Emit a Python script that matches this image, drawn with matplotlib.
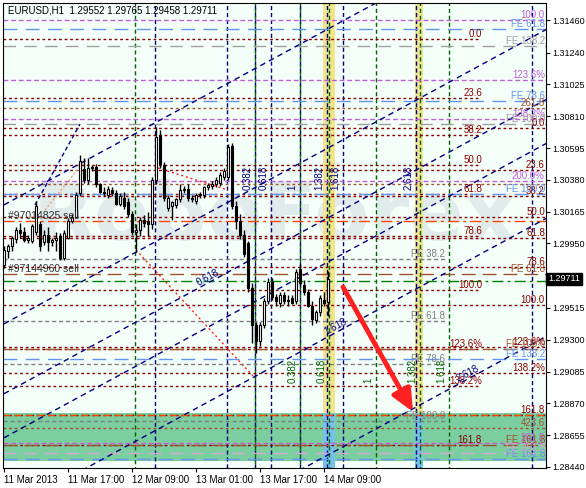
import numpy as np
import matplotlib.pyplot as plt

plt.rcParams['font.family'] = ['Liberation Sans', 'DejaVu Sans']

# hourly EURUSD candles from 11 Mar 2013 00:00
opens = [1.29805, 1.29900, 1.29930, 1.29980, 1.30040, 1.30030, 1.29975, 1.29970, 1.30030, 1.30080,
         1.29960, 1.30010, 1.29960, 1.29975, 1.30000, 1.29850, 1.29990, 1.30100, 1.30130, 1.30290,
         1.30450, 1.30380, 1.30460, 1.30470, 1.30350, 1.30300, 1.30280, 1.30310, 1.30290, 1.30220,
         1.30260, 1.30230, 1.30150, 1.30030, 1.30040, 1.30110, 1.30100, 1.30080, 1.30380, 1.30680,
         1.30480, 1.30190, 1.30200, 1.30210, 1.30250, 1.30310, 1.30320, 1.30260, 1.30240, 1.30275,
         1.30280, 1.30330, 1.30340, 1.30350, 1.30360, 1.30400, 1.30400, 1.30610, 1.30200, 1.30100,
         1.30010, 1.29950, 1.29650, 1.29400, 1.29290, 1.29400, 1.29560, 1.29690, 1.29590, 1.29550,
         1.29600, 1.29560, 1.29580, 1.29560, 1.29780, 1.29670, 1.29620, 1.29530, 1.29430, 1.29490,
         1.29570, 1.29552]
highs = [1.29933, 1.29945, 1.30000, 1.30060, 1.30090, 1.30060, 1.30010, 1.30080, 1.30240, 1.30100,
         1.30040, 1.30060, 1.29990, 1.30030, 1.30020, 1.30040, 1.30120, 1.30150, 1.30300, 1.30550,
         1.30530, 1.30530, 1.30480, 1.30490, 1.30360, 1.30330, 1.30340, 1.30330, 1.30310, 1.30290,
         1.30300, 1.30260, 1.30170, 1.30080, 1.30130, 1.30140, 1.30160, 1.30400, 1.30740, 1.30720,
         1.30500, 1.30280, 1.30240, 1.30260, 1.30350, 1.30340, 1.30350, 1.30280, 1.30290, 1.30300,
         1.30340, 1.30360, 1.30370, 1.30400, 1.30430, 1.30460, 1.30620, 1.30630, 1.30240, 1.30150,
         1.30040, 1.29970, 1.29680, 1.29420, 1.29420, 1.29580, 1.29720, 1.29720, 1.29610, 1.29620,
         1.29620, 1.29600, 1.29600, 1.29780, 1.29810, 1.29700, 1.29640, 1.29560, 1.29500, 1.29600,
         1.29620, 1.29765]
lows = [1.29784, 1.29855, 1.29900, 1.29950, 1.29990, 1.29960, 1.29950, 1.29950, 1.30010, 1.29900,
        1.29940, 1.29900, 1.29930, 1.29900, 1.29840, 1.29840, 1.29980, 1.30090, 1.30120, 1.30270,
        1.30360, 1.30350, 1.30440, 1.30330, 1.30290, 1.30270, 1.30260, 1.30270, 1.30210, 1.30200,
        1.30180, 1.30130, 1.30010, 1.29890, 1.30000, 1.30060, 1.30000, 1.30050, 1.30350, 1.30460,
        1.30240, 1.30170, 1.30110, 1.30190, 1.30230, 1.30290, 1.30240, 1.30230, 1.30220, 1.30260,
        1.30260, 1.30310, 1.30320, 1.30330, 1.30340, 1.30380, 1.30380, 1.30180, 1.30050, 1.29980,
        1.29860, 1.29620, 1.29280, 1.29210, 1.29260, 1.29380, 1.29540, 1.29570, 1.29530, 1.29520,
        1.29540, 1.29530, 1.29540, 1.29540, 1.29660, 1.29600, 1.29520, 1.29400, 1.29410, 1.29460,
        1.29530, 1.29458]
closes = [1.29906, 1.29930, 1.29985, 1.30040, 1.30020, 1.29975, 1.29990, 1.30070, 1.30200, 1.29930,
          1.30010, 1.29960, 1.29975, 1.29990, 1.29855, 1.30020, 1.30100, 1.30130, 1.30280, 1.30510,
          1.30380, 1.30460, 1.30470, 1.30350, 1.30300, 1.30290, 1.30320, 1.30290, 1.30220, 1.30270,
          1.30200, 1.30150, 1.30030, 1.30040, 1.30110, 1.30090, 1.30080, 1.30380, 1.30670, 1.30490,
          1.30260, 1.30260, 1.30230, 1.30250, 1.30310, 1.30320, 1.30260, 1.30250, 1.30280, 1.30285,
          1.30330, 1.30345, 1.30355, 1.30380, 1.30410, 1.30440, 1.30600, 1.30200, 1.30100, 1.30010,
          1.29880, 1.29650, 1.29400, 1.29290, 1.29400, 1.29560, 1.29690, 1.29590, 1.29560, 1.29600,
          1.29560, 1.29570, 1.29550, 1.29760, 1.29680, 1.29620, 1.29530, 1.29440, 1.29490, 1.29580,
          1.29550, 1.29711]

tick_bars = [0, 16, 32, 48, 64, 80]
tick_labels = ["11 Mar 2013", "11 Mar 17:00", "12 Mar 09:00", "13 Mar 01:00", "13 Mar 17:00", "14 Mar 09:00"]
price_ticks = [1.31460, 1.31240, 1.31025, 1.30810, 1.30595, 1.30380, 1.30165, 1.29950,
               1.29515, 1.29300, 1.29085, 1.28870, 1.28655, 1.28440]
last_price = 1.29711
title = "EURUSD,H1  1.29552 1.29765 1.29458 1.29711"

# fibo retracement grids
fibo_a_levels = [1.31330, 1.30930, 1.30683, 1.30483, 1.30283, 1.30000, 1.29636, 1.29236, 1.28989, 1.28589]
fibo_a_labels = ["0.0", "23.6", "38.2", "50.0", "61.8", "78.6", "100.0", "123.6%", "138.2%", "161.8"]
fibo_b_levels = [1.30730, 1.30447, 1.30272, 1.30131, 1.29990, 1.29788, 1.29532, 1.29249, 1.29074, 1.28790]
fibo_b_labels = ["0.0", "23.6", "38.2", "50.0", "61.8", "78.6", "100.0", "123.6%", "138.2%", "161.8"]
exp_levels = [1.31460, 1.31052, 1.30789, 1.30374, 1.28604]
exp_labels = ["100.0", "123.6%", "138.2%", "200.0%", "261.8"]
fe_blue_levels = [1.31397, 1.30913, 1.30286, 1.29172, 1.28494]
fe_blue_labels = ["FE 61.8", "FE 78.6", "FE 100.0", "FE 138.2", "FE 161.8"]
fe_gray_levels = [1.31284, 1.30757]
fe_gray_labels = ["FE 138.2", "FE 100.0"]
fe_gray_short_levels = [1.29847, 1.29428, 1.29134, 1.28753]
fe_gray_short_labels = ["FE 38.2", "FE 61.8", "FE 78.6", "FE 100.0"]
fe_brown_levels = [1.29744, 1.29235, 1.28589]
fe_brown_labels = ["FE 61.8", "FE 100.0", "FE 161.8"]
brown_dot_levels = [1.30863, 1.30352, 1.28701]
brown_dot_labels = ["261.8", "", "423.6"]
fe_pink_levels = [1.28533]
fe_pink_labels = ["FE 261.8"]

orders = [1.30104, 1.29744]
order_labels = ["#97014825 sell", "#97144960 sell"]
stop_level = 1.29695
take_level = 1.28791
zone_low, zone_high = 1.28483, 1.28803

# fibo time zones (bar positions)
navy_zones = [37.75, 55.8, 62.75, 66.8, 74, 80.7, 84.8, 102.9, 131.9]
navy_zone_labels = ["", "", "0.382", "0.618", "1", "1.382", "1.618", "2.618", ""]
green_zones = [32.75, 62.75, 74, 81.3, 92.9, 104, 111.3]
green_zone_labels = ["", "", "0.382", "0.618", "1", "1.382", "1.618"]
bands = [(79.8, 82.7), (102.75, 104.7)]

# fibo channel: price at bar 0 and at bar 135.5
chan_start = [1.30211, 1.29407, 1.28935, 1.28637, 1.28131, 1.27333]
chan_end = [1.32199, 1.31395, 1.30923, 1.30625, 1.30119, 1.29321]
chan_labels = ["", "", "0.618", "", "1.618", "2.618"]
chan_label_bars = [0, 0, 51.5, 0, 83.5, 116.5]

fig = plt.figure(figsize=(5.86, 4.88), dpi=100)
ax = fig.add_axes([3 / 586, 20 / 488, 543 / 586, 465 / 488])
ax.set_facecolor('#F5FFFA')
ax.set_xlim(-0.25, 135.5)
ax.set_ylim(1.28433, 1.31575)
ytr = ax.get_yaxis_transform()

MAROON, VIOLET, BLUE, GRAY, BROWN = '#8B0000', '#C060D8', '#6495ED', '#A0A0A0', '#A0522D'
NAVY, GREEN = '#000080', '#006400'
fs = 7

# zones and bands
ax.axhspan(zone_low, zone_high, color='#7BCE9F', lw=0, zorder=0.6)
for b0, b1 in bands:
    ax.axvspan(b0, b1, color='#F0E48C', lw=0, zorder=0.5)
    ax.fill_between([b0, b1], 1.28433, zone_high, color='#74C2E8', lw=0, zorder=0.7)

ax.text(67.75, 1.29974, "RoboForex", ha='center', va='baseline', fontsize=58,
        fontweight='bold', family='DejaVu Sans', color='#E0EBEB', zorder=0.4)

# time zones
for b, lb in zip(navy_zones, navy_zone_labels):
    ax.axvline(b, color=NAVY, lw=1, ls=(0, (3, 2)), zorder=1.5)
    if lb:
        ax.text(b - 0.6, 1.30311, lb, rotation=90, ha='right', va='bottom', color=NAVY, fontsize=fs, zorder=5)
for b, lb in zip(green_zones, green_zone_labels):
    ax.axvline(b, color=GREEN, lw=1, ls=(2, (3, 2)), zorder=1.5)
    if lb:
        ax.text(b - 0.6, 1.29008, lb, rotation=90, ha='right', va='bottom', color=GREEN, fontsize=fs, zorder=5)

# horizontal levels
ax.hlines(fibo_a_levels, -0.25, 119, colors=MAROON, lw=1, linestyles=(0, (2, 2)), zorder=2)
for lv, lb in zip(fibo_a_levels, fibo_a_labels):
    ax.text(119.5, lv, lb, ha='right', va='bottom', color=MAROON, fontsize=fs, zorder=5)
ax.hlines(fe_gray_short_levels, -0.25, 110.25, colors='#808080', lw=1, linestyles=(0, (3, 2)), zorder=2)
for lv, lb in zip(fe_gray_short_levels, fe_gray_short_labels):
    ax.text(110.25, lv, lb, ha='right', va='bottom', color='#808080', fontsize=fs, zorder=5)


def full_levels(levels, labels, color, ls, lw=1):
    for lv, lb in zip(levels, labels):
        ax.axhline(lv, color=color, lw=lw, ls=ls, zorder=2)
        if lb:
            ax.text(0.998, lv, lb, transform=ytr, ha='right', va='bottom',
                    color=color, fontsize=fs, zorder=5)


full_levels(fibo_b_levels, fibo_b_labels, MAROON, (0, (2, 2)))
full_levels(exp_levels, exp_labels, VIOLET, (0, (3.5, 2)))
full_levels(fe_blue_levels, fe_blue_labels, BLUE, (0, (10, 6)))
full_levels(fe_gray_levels, fe_gray_labels, GRAY, (0, (9, 6)))
full_levels(brown_dot_levels, brown_dot_labels, BROWN, (0, (2, 2)))
full_levels(fe_brown_levels, fe_brown_labels, BROWN, (0, (10, 5)))
full_levels(fe_pink_levels, fe_pink_labels, '#D8A8D0', (0, (9, 6)))

ax.axhline(orders[0], color='#FF4500', lw=1, ls=(0, (8, 3, 2, 3)), zorder=2.1)
ax.axhline(stop_level, color='#008000', lw=1, ls=(0, (8, 3, 2, 3)), zorder=2.1)
ax.axhline(take_level, color='#FF4500', lw=1, ls=(0, (5, 3)), zorder=2.1)
for lv, lb in zip(orders, order_labels):
    ax.text(1.0, lv, lb, ha='left', va='bottom', color='#303030', fontsize=fs + 0.5, zorder=5)

# fibo channel
cx = [0, 135.5]
for s, e, lb, lbx in zip(chan_start, chan_end, chan_labels, chan_label_bars):
    ax.plot(cx, [s, e], color=NAVY, lw=1, ls=(0, (4, 3)), zorder=2.2)
    if lb:
        p = s + (e - s) * lbx / 135.5
        d = ax.transData.transform([(0, s), (135.5, e)])
        ang = np.degrees(np.arctan2(d[1, 1] - d[0, 1], d[1, 0] - d[0, 0]))
        ax.text(lbx, p, lb, rotation=ang, rotation_mode='anchor', ha='center', va='bottom',
                color=NAVY, fontsize=fs, zorder=5)

# other trend lines
ax.plot([7.75, 19], [1.30210, 1.30757], color=NAVY, lw=1, ls=(0, (3, 2)), zorder=2.2)
ax.plot([10.25, 20.75], [1.30176, 1.30528], color='#F4A070', lw=1, ls=(0, (1.5, 1.5)), zorder=2.2)
ax.plot([38.5, 56], [1.30460, 1.30311], color='#FF2020', lw=1, ls=(0, (1.5, 2)), zorder=2.2)
ax.plot([33, 62.25], [1.29906, 1.29055], color='#FF2020', lw=1, ls=(0, (1.5, 2)), zorder=2.2)

# candles
bars = np.arange(len(opens))
o, h, l, c = map(np.array, (opens, highs, lows, closes))
ax.vlines(bars, l, h, color='black', lw=1, zorder=4)
up = c >= o
ax.bar(bars[up], (c - o)[up], bottom=o[up], width=0.6, color='white', edgecolor='black', lw=0.8, zorder=4.5)
ax.bar(bars[~up], (o - c)[~up], bottom=c[~up], width=0.6, color='black', edgecolor='black', lw=0.8, zorder=4.5)

ax.annotate("", xy=(102.25, 1.28812), xytext=(84.75, 1.29656),
            arrowprops=dict(arrowstyle="-|>,head_length=1.1,head_width=0.5", color='#FF2020',
                            lw=3.5, mutation_scale=12, shrinkA=0, shrinkB=0), zorder=6)

ax.text(5 / 543, 1 - 8 / 465, title, transform=ax.transAxes, ha='left', va='center', fontsize=fs, zorder=6)

# axes
ax.yaxis.tick_right()
ax.set_yticks(price_ticks)
ax.set_yticklabels([f"{p:.5f}" for p in price_ticks])
ax.set_xticks(tick_bars)
ax.set_xticklabels(tick_labels, ha='left')
ax.tick_params(axis='y', length=3, pad=1.5, labelsize=6.5)
ax.tick_params(axis='x', length=3, pad=2, labelsize=fs)
for sp in ax.spines.values():
    sp.set_color('black')
ax.text(1.004, last_price, f"{last_price:.5f}", transform=ytr, ha='left', va='center', color='white',
        fontsize=6.5, bbox=dict(boxstyle='square,pad=0.2', fc='black', ec='black'), clip_on=False, zorder=7)

fig.savefig("out.png", dpi=100, facecolor='white')
plt.close(fig)
